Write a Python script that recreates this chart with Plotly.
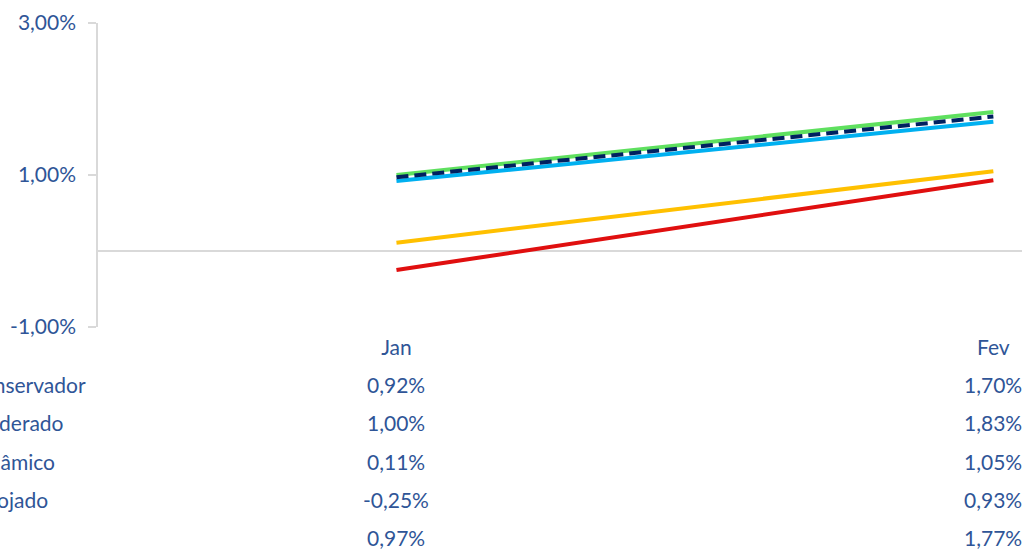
import plotly.graph_objects as go

months = ["Jan", "Fev"]
series_names = ["Conservador", "Moderado", "Dinâmico", "Arrojado", "CDI"]
conservador = [0.92, 1.70]
moderado = [1.00, 1.83]
dinamico = [0.11, 1.05]
arrojado = [-0.25, 0.93]
cdi = [0.97, 1.77]
y_ticks = [-1, 1, 3]
y_tick_labels = ["-1,00%", "1,00%", "3,00%"]

values = [conservador, moderado, dinamico, arrojado, cdi]
colors = ["#00B0F0", "#5FE05F", "#FFC000", "#E00F0F", "#002060"]
dashes = ["solid", "solid", "solid", "solid", "12px,6px"]
show_row_label = [True, True, True, True, False]

TXT = "#2F5597"
FONT = "Lato, Carlito, Calibri, sans-serif"
FS = 21

fig = go.Figure()
xs = list(range(len(months)))
for name, vals, col, dash in zip(series_names, values, colors, dashes):
    fig.add_trace(go.Scatter(x=xs, y=vals, mode="lines", name=name,
                             line=dict(color=col, width=4, dash=dash),
                             hoverinfo="skip"))

def fmt(v):
    return f"{v:.2f}".replace(".", ",") + "%"

annotations = []
row_offsets = [57, 95, 134, 172, 210]
for i, (name, vals) in enumerate(zip(series_names, values)):
    if show_row_label[i]:
        annotations.append(dict(text=name, xref="paper", yref="paper", x=0, y=0,
                                xanchor="left", yanchor="middle", xshift=-132,
                                yshift=-row_offsets[i], showarrow=False,
                                font=dict(color=TXT, size=FS, family=FONT)))
    for j, v in enumerate(vals):
        annotations.append(dict(text=fmt(v), xref="x", yref="paper", x=xs[j], y=0,
                                xanchor="center", yanchor="middle",
                                yshift=-row_offsets[i], showarrow=False,
                                font=dict(color=TXT, size=FS, family=FONT)))

fig.update_layout(
    width=1022, height=549,
    margin=dict(l=98, r=0, t=23, b=222),
    paper_bgcolor="white", plot_bgcolor="white",
    showlegend=False,
    font=dict(family=FONT, color=TXT, size=FS),
    annotations=annotations,
    xaxis=dict(range=[-0.5, 1.048], tickvals=xs, ticktext=months,
               showgrid=False, zeroline=False, showline=False, ticks="",
               ticklabelstandoff=6,
               tickfont=dict(color=TXT, size=FS, family=FONT)),
    yaxis=dict(range=[-1, 3], tickvals=y_ticks, ticktext=y_tick_labels,
               showgrid=False, zeroline=True, zerolinecolor="#D9D9D9",
               zerolinewidth=1.5, showline=True, linecolor="#D9D9D9",
               linewidth=1.5, ticks="outside", ticklen=8, tickcolor="#D9D9D9",
               tickwidth=1.5, ticklabelstandoff=8,
               tickfont=dict(color=TXT, size=FS, family=FONT)),
)

fig.write_html("out.html", config={"displayModeBar": False},
               post_script="document.body.style.margin='0';document.body.style.overflow='hidden';")
